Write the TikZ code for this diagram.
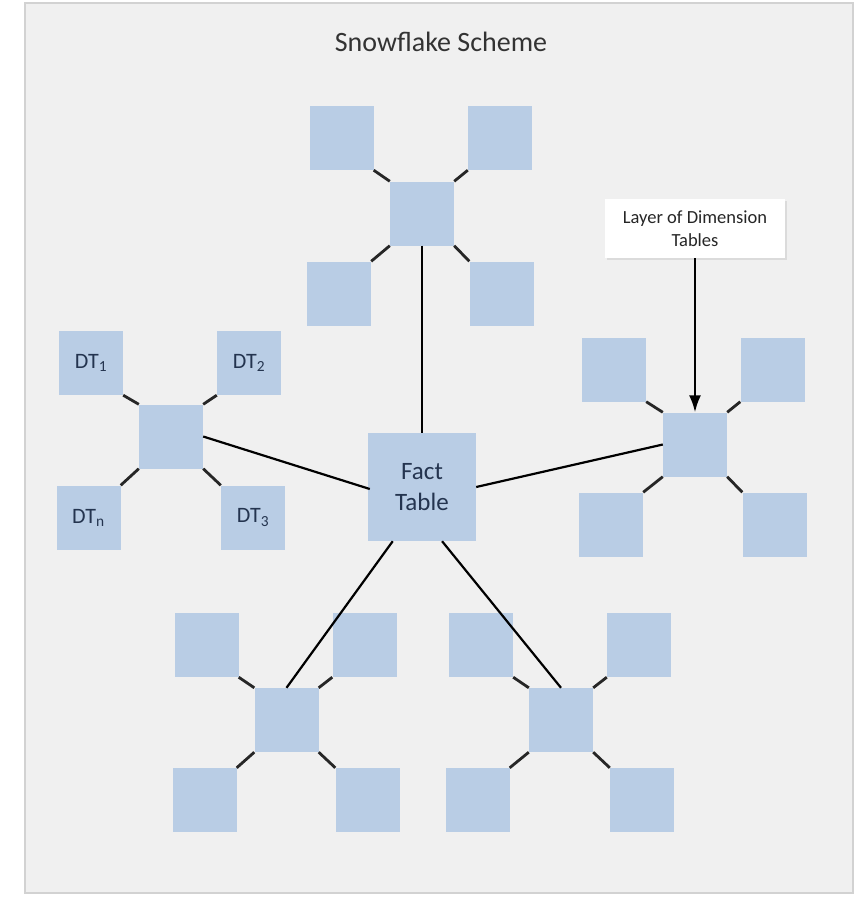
\documentclass[tikz,border=0pt]{standalone}
\usepackage{fontspec}
\setmainfont{Carlito}
\usetikzlibrary{arrows.meta,calc,shadows}

\definecolor{panelbg}{HTML}{F0F0F0}
\definecolor{panelline}{HTML}{D2D2D2}
\definecolor{boxblue}{HTML}{B9CDE5}
\definecolor{labelink}{HTML}{24344F}
\definecolor{titleink}{HTML}{333333}

\tikzset{
  tbl/.style={fill=boxblue, minimum width=64, minimum height=64, inner sep=0,
              text=labelink, font=\fontsize{22}{24}\selectfont},
  facttbl/.style={tbl, minimum width=108, minimum height=108, align=center,
                  font=\fontsize{25}{31}\selectfont},
  link/.style={draw=black, line width=2.2},
  spoke/.style={draw=black!85, line width=2.8},
  callout/.style={fill=white, minimum width=180, minimum height=59, inner sep=0,
                  align=center, text=black!85, font=\fontsize{18.5}{23}\selectfont,
                  drop shadow={opacity=0.18, shadow xshift=1.5pt, shadow yshift=-1.5pt}},
}

% one snowflake arm: a centre table with four dimension tables round it
\newcommand{\flake}[7]{%
  % #1 name, #2 centre, #3 NW, #4 NE, #5 SW, #6 SE, #7 labels (nw/ne/sw/se) or empty
  \node[tbl] (#1c) at #2 {};
  \node[tbl] (#1nw) at #3 {};
  \node[tbl] (#1ne) at #4 {};
  \node[tbl] (#1sw) at #5 {};
  \node[tbl] (#1se) at #6 {};
  \draw[spoke] (#1nw.south east) -- (#1c.north west);
  \draw[spoke] (#1ne.south west) -- (#1c.north east);
  \draw[spoke] (#1sw.north east) -- (#1c.south west);
  \draw[spoke] (#1se.north west) -- (#1c.south east);
}

\begin{document}
\begin{tikzpicture}[x=1pt, y=-1pt]
  \useasboundingbox (0,0) rectangle (861,897);
  \fill[white] (0,0) rectangle (861,897);
  \filldraw[fill=panelbg, draw=panelline, line width=1.5] (25,3) rectangle (853,893);

  \node[text=titleink, font=\fontsize{28}{32}\selectfont] (title) at (441,42) {Snowflake Scheme};

  % fact table in the middle
  \node[facttbl] (fact) at (422,487) {Fact\\Table};

  % the five arms
  \flake{top}{(422,213.5)}{(341.5,138)}{(500,138)}{(339,293.5)}{(501.5,293.5)}{}
  \flake{lft}{(171,436.5)}{(91,363)}{(249,363)}{(88.5,517.5)}{(253,517.5)}{}
  \flake{rgt}{(695,444.5)}{(614,369.5)}{(772.5,369.5)}{(611,524.5)}{(774.5,524.5)}{}
  \flake{bl}{(286.5,720)}{(206.5,645)}{(364.5,645)}{(204.5,800)}{(367.5,800)}{}
  \flake{br}{(561,720)}{(481,645)}{(639,645)}{(477.5,800)}{(642,800)}{}

  % dimension table labels on the left arm
  \node[text=labelink, font=\fontsize{22}{24}\selectfont] at (lftnw) {DT\textsubscript{1}};
  \node[text=labelink, font=\fontsize{22}{24}\selectfont] at (lftne) {DT\textsubscript{2}};
  \node[text=labelink, font=\fontsize{22}{24}\selectfont] at (lftsw) {DT\textsubscript{n}};
  \node[text=labelink, font=\fontsize{22}{24}\selectfont] at (lftse) {DT\textsubscript{3}};

  % links from the fact table to each arm
  \draw[link] (topc.south) -- (fact.north);
  \draw[link] (lftc.east) -- ($(fact.west)+(2,2)$);
  \draw[link] (fact.east) -- (rgtc.west);
  \draw[link] ($(fact.south west)!0.23!(fact.south east)$) -- (blc.north);
  \draw[link] ($(fact.south west)!0.685!(fact.south east)$) -- (brc.north);

  % callout naming the dimension layer
  \node[callout] (note) at (695,228.5) {Layer of Dimension\\Tables};
  \draw[black, line width=2.2, -{Latex[length=17,width=12]}] (note.south) -- (rgtc.north);
\end{tikzpicture}
\end{document}
